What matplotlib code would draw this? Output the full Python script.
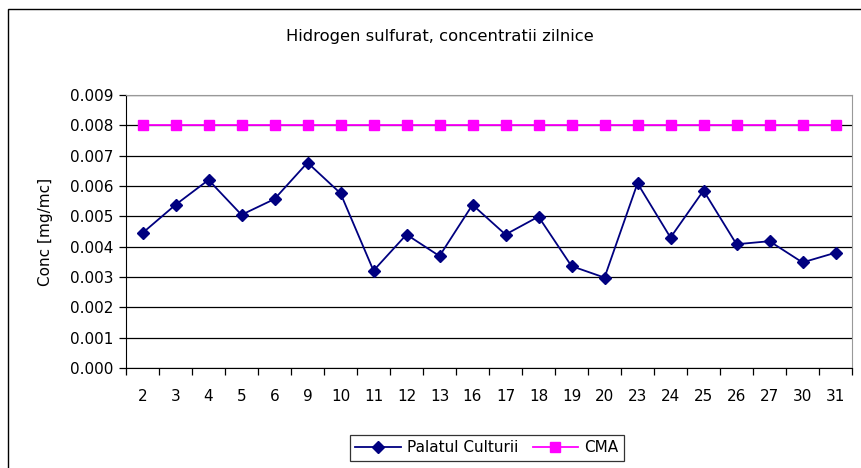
import matplotlib
matplotlib.use('Agg')
import matplotlib.pyplot as plt
import numpy as np

plt.rcParams['font.family'] = ['DejaVu Sans']

# ── data ──────────────────────────────────────────────
days = ['2', '3', '4', '5', '6', '9', '10', '11', '12', '13', '16',
        '17', '18', '19', '20', '23', '24', '25', '26', '27', '30', '31']
palatul = [0.00445, 0.00538, 0.00620, 0.00505, 0.00557, 0.00677, 0.00576,
           0.00321, 0.00440, 0.00369, 0.00538, 0.00440, 0.00499, 0.00336,
           0.00298, 0.00609, 0.00430, 0.00585, 0.00408, 0.00418, 0.00348,
           0.00380]
cma = [0.008] * len(days)

W, H = 861, 468
FS = 11
fig = plt.figure(figsize=(W / 100, H / 100), dpi=100)
fig.patch.set_facecolor('white')

# outer chart border (right/bottom run off the image)
fig.add_artist(plt.Rectangle((8 / W, -0.05), 1.1, (H - 9) / H + 0.05,
                             transform=fig.transFigure, fill=False,
                             ec='black', lw=1.0))

ax = fig.add_axes([126 / W, 100 / H, 726 / W, 273 / H])
x = np.arange(len(days))

ax.plot(x, palatul, color='#000080', lw=1.3, marker='D', ms=6.5,
        mfc='#000080', mec='#000080', label='Palatul Culturii', zorder=3)
ax.plot(x, cma, color='#FF00FF', lw=1.3, marker='s', ms=7,
        mfc='#FF00FF', mec='#FF00FF', label='CMA', zorder=3)

ax.set_xlim(-0.5, len(days) - 0.5)
ax.set_ylim(0, 0.009)
yt = np.arange(0, 0.0091, 0.001)
ax.set_yticks(yt)
ax.set_yticklabels([f'{v:.3f}' for v in yt])
ax.yaxis.grid(True, color='black', lw=0.9)
ax.set_axisbelow(True)

ax.set_xticks(x)
ax.set_xticklabels(days)
ax.set_xticks(np.arange(-0.5, len(days)), minor=True)
ax.tick_params(axis='x', which='major', length=0, pad=15, labelsize=FS)
ax.tick_params(axis='x', which='minor', length=5, width=0.9, direction='out')
ax.tick_params(axis='y', length=5, width=0.9, direction='out', pad=4,
               labelsize=FS)

for s in ['left', 'bottom']:
    ax.spines[s].set_color('black')
for s in ['top', 'right']:
    ax.spines[s].set_color('#999999')

ax.set_ylabel('Conc [mg/mc]', fontsize=FS, labelpad=12)

fig.text(440 / W, 1 - 37 / H, 'Hidrogen sulfurat, concentratii zilnice',
         ha='center', va='center', fontsize=11.8)

leg = ax.legend(loc='center', bbox_to_anchor=(487 / W, 1 - 448 / H),
                bbox_transform=fig.transFigure, ncol=2, frameon=True,
                fancybox=False, edgecolor='black', fontsize=FS,
                handlelength=3.0, columnspacing=0.9, handletextpad=0.4,
                borderpad=0.35)
leg.get_frame().set_linewidth(0.9)

fig.savefig('out.png', dpi=100, facecolor='white')
